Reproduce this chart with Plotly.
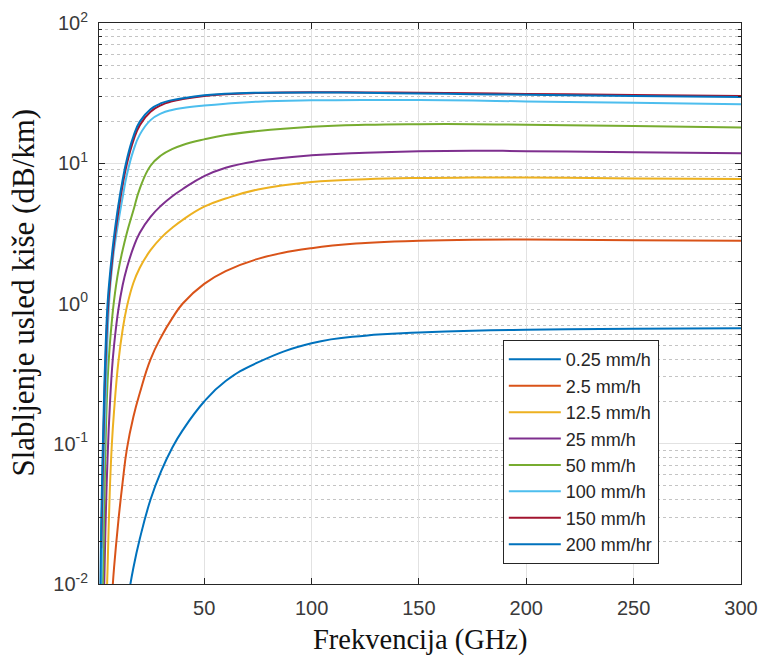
import plotly.graph_objects as go

# Frequency grid (GHz) at which the attenuation curves are sampled
freq = [1, 2, 3, 4, 5, 6, 7, 8, 10, 12, 14, 17, 20, 25, 30, 35, 40, 50, 60, 75,
        100, 125, 150, 175, 200, 250, 300]

# Specific rain attenuation (dB/km) for each rain rate
att_025 = [None, None, None, None, None, None, None, None, None, 0.004, 0.007, 0.013,
           0.021, 0.040, 0.064, 0.093, 0.125, 0.20, 0.28, 0.38,
           0.52, 0.59, 0.62, 0.64, 0.65, 0.66, 0.665]
att_25 = [None, None, None, None, None, 0.005, 0.008, 0.013, 0.028, 0.053, 0.092, 0.155,
          0.23, 0.40, 0.58, 0.78, 1.0, 1.38, 1.70, 2.08,
          2.48, 2.70, 2.80, 2.85, 2.86, 2.83, 2.80]
att_125 = [None, None, None, 0.004, 0.013, 0.045, 0.10, 0.17, 0.38, 0.65, 0.95, 1.40,
           1.80, 2.40, 2.95, 3.45, 3.95, 4.90, 5.60, 6.50,
           7.35, 7.70, 7.86, 7.90, 7.90, 7.80, 7.73]
att_250 = [None, None, 0.005, 0.025, 0.08, 0.18, 0.33, 0.50, 0.90, 1.35, 1.80, 2.50,
           3.20, 4.15, 5.00, 5.80, 6.55, 8.10, 9.30, 10.4,
           11.4, 11.9, 12.2, 12.3, 12.2, 12.0, 11.8]
att_500 = [None, 0.002, 0.014, 0.09, 0.28, 0.50, 0.75, 1.05, 1.70, 2.40, 3.20, 4.60,
           6.60, 9.60, 11.4, 12.6, 13.5, 14.8, 15.9, 17.0,
           18.2, 18.8, 19.0, 19.0, 18.8, 18.4, 18.0]
att_1000 = [None, 0.008, 0.05, 0.18, 0.60, 1.20, 1.75, 2.40, 3.80, 5.70, 8.30, 12.3,
            16.0, 20.3, 22.7, 24.0, 24.8, 25.8, 26.6, 27.5,
            28.1, 28.3, 28.2, 28.0, 27.6, 27.0, 26.3]
att_1500 = [None, 0.018, 0.10, 0.36, 0.85, 1.35, 1.95, 2.70, 4.50, 7.00, 9.90, 14.5,
            18.7, 23.3, 26.0, 27.6, 28.7, 30.2, 31.1, 31.7,
            32.1, 32.0, 31.8, 31.5, 31.2, 30.7, 30.2]
att_2000 = [0.0015, 0.025, 0.13, 0.45, 1.00, 1.55, 2.20, 3.00, 5.00, 7.60, 10.7, 15.5,
            19.8, 24.3, 26.8, 28.2, 29.1, 30.5, 31.3, 31.8,
            32.0, 31.8, 31.4, 31.1, 30.8, 30.2, 29.7]

series = [
    ("0.25 mm/h", att_025, "#0072BD"),
    ("2.5 mm/h", att_25, "#D95319"),
    ("12.5 mm/h", att_125, "#EDB120"),
    ("25 mm/h", att_250, "#7E2F8E"),
    ("50 mm/h", att_500, "#77AC30"),
    ("100 mm/h", att_1000, "#4DBEEE"),
    ("150 mm/h", att_1500, "#A2142F"),
    ("200 mm/hr", att_2000, "#0072BD"),
]

x_ticks = [50, 100, 150, 200, 250, 300]
y_ticks = [0.01, 0.1, 1, 10, 100]
y_tick_text = ["10<sup>-2</sup>", "10<sup>-1</sup>", "10<sup>0</sup>",
               "10<sup>1</sup>", "10<sup>2</sup>"]
y_minor = [k * 10.0 ** e for e in range(-2, 2) for k in range(2, 10)]

fig = go.Figure()
for name, vals, color in series:
    fig.add_trace(go.Scatter(
        x=freq, y=vals, name=name, mode="lines", legendgroup=name,
        line=dict(color=color, width=2, shape="spline", smoothing=1.3),
        connectgaps=False,
    ))

axis_line = "#262626"
tick_font = dict(family="Liberation Sans, Arial, sans-serif", size=20, color="#3a3a3a")

fig.update_layout(
    width=761, height=657,
    margin=dict(l=99, r=20, t=23, b=73, autoexpand=False),
    paper_bgcolor="white", plot_bgcolor="white",
    showlegend=True,
    legend=dict(
        x=0.629, y=0.4347, xanchor="left", yanchor="top",
        bgcolor="white", bordercolor=axis_line, borderwidth=1,
        font=dict(family="Liberation Sans, Arial, sans-serif", size=18, color="#262626"),
        tracegroupgap=0, itemwidth=52,
    ),
    annotations=[
        dict(text="Frekvencija (GHz)", xref="paper", yref="paper",
             x=0.5, y=-0.1, xanchor="center", yanchor="middle", showarrow=False,
             font=dict(family="Liberation Serif, Times New Roman, serif", size=28.5, color="#111")),
        dict(text="Slabljenje usled kiše (dB/km)", xref="paper", yref="paper",
             x=-0.118, y=0.52, xanchor="center", yanchor="middle", showarrow=False,
             textangle=-90,
             font=dict(family="Liberation Serif, Times New Roman, serif", size=31, color="#111")),
    ],
)

fig.update_xaxes(
    range=[1, 300], tickvals=x_ticks, ticks="inside", ticklen=6,
    tickcolor=axis_line, showline=True, linecolor=axis_line, linewidth=1,
    mirror="ticks", showgrid=True, gridcolor="#e2e2e2", gridwidth=1,
    zeroline=False, tickfont=tick_font, ticklabelstandoff=6, automargin=False,
)
fig.update_yaxes(
    type="log", range=[-2, 2], tickvals=y_ticks, ticktext=y_tick_text,
    ticks="inside", ticklen=6, tickcolor=axis_line,
    showline=True, linecolor=axis_line, linewidth=1, mirror="ticks",
    showgrid=True, gridcolor="#e2e2e2", gridwidth=1, zeroline=False,
    tickfont=tick_font, ticklabelstandoff=6, automargin=False,
    minor=dict(tickvals=y_minor, ticks="inside", ticklen=3, tickcolor=axis_line,
               showgrid=True, gridcolor="#c4c4c4", gridwidth=1, griddash="3px,3px"),
)

fig.write_html("out.html")
